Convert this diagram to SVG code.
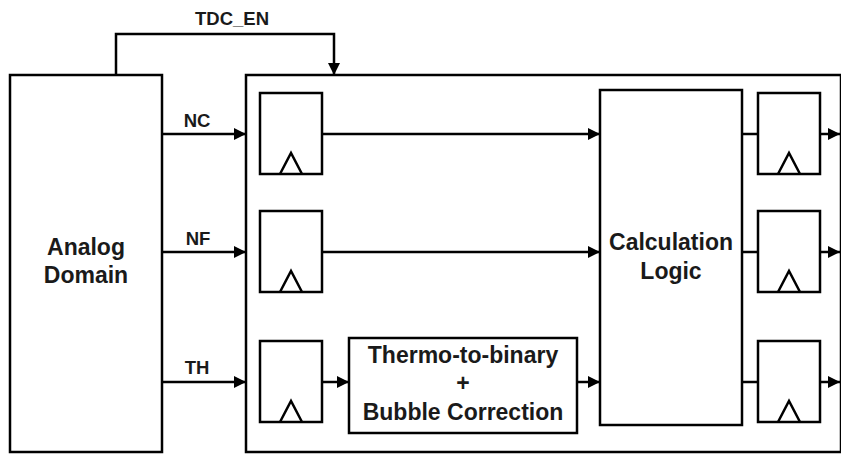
<svg xmlns="http://www.w3.org/2000/svg" width="841" height="455" viewBox="0 0 841 455">
<defs>
<marker id="ah" viewBox="0 0 12 12" refX="12" refY="6" markerWidth="12" markerHeight="12" markerUnits="userSpaceOnUse" orient="auto">
<path d="M0,0 L12,6 L0,12 Z" fill="#000"/>
</marker>
<g id="ff">
<rect x="0" y="0" width="62" height="81" fill="#fff" stroke="#000" stroke-width="2.5"/>
<path d="M20,81 L31,60 L42,81" fill="none" stroke="#000" stroke-width="2.5" stroke-linejoin="miter"/>
</g>
</defs>
<style>
.b{fill:#fff;stroke:#000;stroke-width:2.5}
.w{fill:none;stroke:#000;stroke-width:2.5}
.t{font-family:"Liberation Sans",Arial,sans-serif;font-weight:bold;fill:#1a1a1a;text-anchor:middle}
.s{font-size:18.5px}
.l{font-size:23px}
</style>
<rect width="841" height="455" fill="#fff"/>
<g id="analog">
<rect class="b" x="10" y="75" width="152" height="377"/>
<text class="t l" x="86" y="255">Analog</text>
<text class="t l" x="86" y="283">Domain</text>
</g>
<g id="digital">
<rect class="b" x="246" y="75" width="595" height="377"/>
</g>
<g id="ff_nc"><use href="#ff" x="260" y="93"/></g>
<g id="ff_nf"><use href="#ff" x="260" y="211"/></g>
<g id="ff_th"><use href="#ff" x="260" y="341"/></g>
<g id="thermo">
<rect class="b" x="349" y="338" width="228" height="95"/>
<text class="t l" x="463" y="363">Thermo-to-binary</text>
<text class="t l" x="463" y="391">+</text>
<text class="t l" x="463" y="420">Bubble Correction</text>
</g>
<g id="calc">
<rect class="b" x="600" y="90" width="142" height="335"/>
<text class="t l" x="671" y="250">Calculation</text>
<text class="t l" x="671" y="279">Logic</text>
</g>
<g id="ff_o1"><use href="#ff" x="758" y="93"/></g>
<g id="ff_o2"><use href="#ff" x="758" y="211"/></g>
<g id="ff_o3"><use href="#ff" x="758" y="341"/></g>
<g id="connectors">
<path class="w" d="M116,75 V34 H334 V75" marker-end="url(#ah)"/>
<path class="w" d="M162,134 H246" marker-end="url(#ah)"/>
<path class="w" d="M162,252 H246" marker-end="url(#ah)"/>
<path class="w" d="M162,382 H246" marker-end="url(#ah)"/>
<path class="w" d="M322,134 H600" marker-end="url(#ah)"/>
<path class="w" d="M322,252 H600" marker-end="url(#ah)"/>
<path class="w" d="M322,382 H349" marker-end="url(#ah)"/>
<path class="w" d="M577,382 H600" marker-end="url(#ah)"/>
<path class="w" d="M742,134 H758"/>
<path class="w" d="M742,252 H758"/>
<path class="w" d="M742,382 H758"/>
<path class="w" d="M820,134 H840" marker-end="url(#ah)"/>
<path class="w" d="M820,252 H840" marker-end="url(#ah)"/>
<path class="w" d="M820,382 H840" marker-end="url(#ah)"/>
</g>
<g id="labels">
<text class="t s" x="232" y="25">TDC_EN</text>
<text class="t s" x="197" y="127">NC</text>
<text class="t s" x="198" y="245">NF</text>
<text class="t s" x="197" y="374">TH</text>
</g>
</svg>
